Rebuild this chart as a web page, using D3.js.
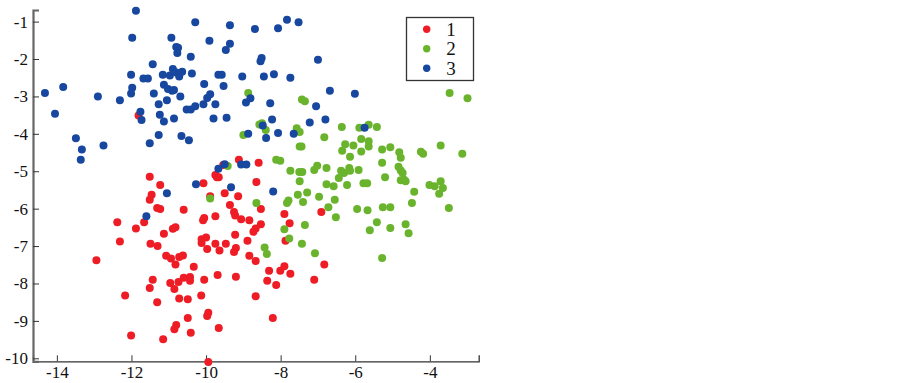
<!DOCTYPE html>
<html>
<head>
<meta charset="utf-8">
<script src="https://cdn.jsdelivr.net/npm/d3@7"></script>
<style>
html, body { margin: 0; padding: 0; background: #fff; }
</style>
</head>
<body>
<div id="chart"></div>
<script>
var groupNames = ["1", "2", "3"];
var groupColors = ["#ee1c25", "#6ab42d", "#17479e"];
var xTicks = [-14, -12, -10, -8, -6, -4];
var yTicks = [-1, -2, -3, -4, -5, -6, -7, -8, -9, -10];

var group1 = [[-11.81,-3.51],[-11.51,-5.15],[-11.23,-5.37],[-10.07,-5.32],[-9.75,-5.10],[-9.71,-5.16],[-9.66,-5.16],[-9.54,-4.83],[-9.12,-4.69],[-8.59,-4.77],
[-8.65,-5.29],[-11.46,-5.63],[-11.51,-5.76],[-11.31,-5.98],[-11.23,-6.01],[-10.60,-6.03],[-9.89,-5.67],[-9.50,-5.59],[-9.14,-5.67],[-9.75,-6.20],
[-10.05,-6.25],[-10.08,-6.31],[-9.36,-5.90],[-9.25,-6.09],[-9.22,-6.18],[-9.06,-6.28],[-8.84,-6.31],[-8.53,-6.01],[-8.53,-6.42],[-8.67,-6.53],
[-8.73,-6.62],[-7.90,-6.14],[-7.76,-6.39],[-7.87,-6.86],[-9.22,-6.70],[-8.89,-6.86],[-12.38,-6.36],[-11.66,-6.36],[-11.88,-6.53],[-11.13,-6.67],
[-10.89,-6.54],[-10.82,-6.50],[-12.31,-6.88],[-11.49,-6.94],[-11.30,-7.00],[-10.12,-6.82],[-10.00,-6.77],[-10.12,-6.92],[-9.97,-7.08],[-9.75,-6.94],
[-9.47,-6.94],[-9.64,-7.12],[-9.20,-7.05],[-9.25,-7.16],[-12.94,-7.38],[-11.07,-7.26],[-10.94,-7.33],[-10.72,-7.29],[-10.62,-7.25],[-10.82,-7.49],
[-10.33,-7.55],[-8.84,-7.26],[-8.67,-7.40],[-11.43,-7.90],[-10.96,-7.99],[-10.74,-7.96],[-10.60,-7.85],[-10.43,-7.83],[-10.43,-7.93],[-10.05,-7.90],
[-9.69,-7.77],[-9.20,-7.82],[-11.51,-8.12],[-10.85,-8.15],[-12.17,-8.32],[-11.31,-8.50],[-10.72,-8.40],[-10.49,-8.42],[-10.13,-8.32],[-8.67,-8.34],
[-10.49,-8.92],[-9.97,-8.87],[-9.94,-8.78],[-10.80,-9.11],[-10.85,-9.22],[-10.41,-9.32],[-9.66,-9.19],[-12.01,-9.39],[-11.15,-9.49],[-9.94,-10.10],
[-6.91,-6.09],[-8.31,-7.66],[-8.01,-7.66],[-7.90,-7.54],[-7.74,-7.74],[-8.36,-7.93],[-8.12,-8.04],[-7.10,-7.90],[-6.83,-7.49],[-8.21,-8.92]];

var group2 = [[-8.87,-2.91],[-8.57,-3.75],[-8.50,-3.72],[-8.40,-3.90],[-9.00,-4.03],[-7.57,-3.85],[-7.49,-3.95],[-7.43,-3.08],[-7.35,-3.13],[-6.83,-4.09],
[-6.36,-3.82],[-5.89,-3.84],[-5.64,-3.76],[-5.42,-3.82],[-6.27,-4.28],[-6.05,-4.31],[-6.35,-4.45],[-5.84,-4.14],[-5.64,-4.20],[-5.64,-4.34],
[-5.84,-4.47],[-6.14,-4.61],[-5.28,-4.42],[-5.06,-4.36],[-4.82,-4.49],[-4.78,-4.64],[-5.28,-4.77],[-4.84,-4.88],[-4.78,-4.98],[-4.73,-5.05],
[-4.24,-4.48],[-4.18,-4.53],[-3.71,-4.31],[-3.13,-4.53],[-3.47,-2.91],[-2.99,-3.05],[-7.49,-4.34],[-7.44,-4.34],[-8.12,-4.69],[-8.01,-4.72],
[-7.74,-4.99],[-7.50,-5.02],[-7.42,-5.02],[-7.10,-4.97],[-7.02,-4.85],[-6.77,-4.91],[-6.38,-4.99],[-6.30,-5.05],[-6.16,-4.91],[-6.14,-4.99],
[-5.91,-4.97],[-6.44,-5.18],[-5.20,-5.16],[-4.78,-5.24],[-4.69,-5.23],[-4.65,-5.27],[-7.49,-5.27],[-6.77,-5.35],[-6.58,-5.40],[-6.22,-5.37],
[-5.78,-5.32],[-5.68,-5.32],[-4.42,-5.55],[-4.48,-5.85],[-4.01,-5.37],[-3.87,-5.40],[-3.71,-5.27],[-3.65,-5.45],[-3.75,-5.60],[-3.49,-5.98],
[-7.54,-5.63],[-7.29,-5.57],[-7.40,-5.82],[-7.79,-5.78],[-7.83,-5.85],[-6.97,-5.68],[-6.55,-5.76],[-6.72,-5.96],[-6.52,-6.23],[-5.95,-6.01],
[-5.67,-6.04],[-5.26,-5.96],[-5.06,-5.96],[-5.42,-6.36],[-5.61,-6.58],[-5.06,-6.52],[-4.65,-6.42],[-4.57,-6.66],[-5.28,-7.32],[-7.35,-6.44],
[-7.90,-6.55],[-7.77,-6.80],[-7.43,-6.94],[-7.08,-7.19],[-8.65,-5.85],[-8.43,-7.04],[-8.37,-7.21],[-9.89,-5.73],[-9.42,-4.86]];

var group3 = [[-11.88,-0.71],[-11.98,-1.43],[-14.32,-2.91],[-14.05,-3.46],[-13.83,-2.75],[-13.49,-4.12],[-13.33,-4.42],[-13.36,-4.69],[-12.90,-3.00],[-12.75,-4.31],
[-12.31,-3.10],[-12.01,-2.42],[-11.98,-2.77],[-12.01,-2.92],[-11.76,-3.41],[-11.73,-3.63],[-11.68,-2.52],[-11.56,-2.52],[-11.43,-2.14],[-11.40,-2.92],
[-11.27,-3.21],[-11.24,-3.49],[-11.13,-3.67],[-11.27,-4.03],[-11.51,-4.25],[-11.16,-2.42],[-11.13,-2.69],[-11.02,-2.80],[-10.91,-2.85],[-10.86,-2.83],
[-11.05,-3.10],[-10.97,-2.44],[-10.89,-2.27],[-10.80,-2.36],[-10.72,-2.47],[-10.72,-2.40],[-10.64,-2.34],[-10.93,-1.43],[-10.80,-1.68],[-10.75,-1.70],
[-10.77,-1.84],[-10.41,-1.94],[-10.38,-2.39],[-10.69,-3.00],[-10.86,-3.59],[-10.66,-4.06],[-10.46,-4.17],[-10.52,-3.35],[-10.41,-3.35],[-10.29,-3.26],
[-10.29,-1.02],[-9.91,-1.51],[-10.05,-2.67],[-9.97,-3.04],[-9.89,-2.94],[-10.07,-3.21],[-9.75,-3.21],[-9.80,-3.59],[-9.45,-3.57],[-9.67,-2.42],
[-9.58,-2.42],[-9.53,-2.72],[-9.36,-1.10],[-9.36,-1.59],[-9.47,-1.76],[-9.03,-2.47],[-8.69,-1.20],[-8.93,-3.16],[-8.81,-3.05],[-8.87,-4.00],
[-9.67,-4.93],[-9.50,-4.81],[-9.06,-4.82],[-8.92,-4.82],[-10.27,-5.35],[-9.33,-5.43],[-11.05,-5.59],[-11.60,-6.20],[-8.07,-1.18],[-7.83,-0.95],
[-7.52,-1.02],[-8.51,-1.97],[-8.54,-2.06],[-7.00,-2.02],[-8.45,-2.47],[-8.18,-2.41],[-7.74,-2.50],[-6.68,-2.85],[-6.01,-2.93],[-8.28,-3.18],
[-7.05,-3.26],[-8.23,-3.62],[-7.22,-3.70],[-6.80,-3.62],[-8.48,-3.78],[-8.07,-3.98],[-8.39,-4.11],[-7.65,-4.00],[-5.75,-3.84],[-8.20,-5.54]];

var groups = [group1, group2, group3];
var serif = "'Liberation Serif', 'Times New Roman', serif";

var width = 902, height = 383;
var svg = d3.select("#chart").append("svg")
    .attr("width", width)
    .attr("height", height)
    .style("display", "block");

var x = d3.scaleLinear().domain([-14.64, -2.69]).range([33, 478.7]);
var y = d3.scaleLinear().domain([-10.08, -0.69]).range([361.3, 10]);

var xAxis = d3.axisBottom(x).tickValues(xTicks).tickSize(-6).tickPadding(5)
    .tickFormat(function(d) { return "" + d; });
var yAxis = d3.axisLeft(y).tickValues(yTicks).tickSize(-6).tickPadding(5)
    .tickFormat(function(d) { return "" + d; });

var gx = svg.append("g").attr("transform", "translate(0,361.3)").call(xAxis);
var gy = svg.append("g").attr("transform", "translate(33,0)").call(yAxis);

gx.selectAll("text").style("font-family", serif).style("font-size", "17px").attr("fill", "#111");
gy.selectAll("text").style("font-family", serif).style("font-size", "17px").attr("fill", "#111");
gx.selectAll("line").attr("stroke", "#333").attr("stroke-width", 1);
gy.selectAll("line").attr("stroke", "#333").attr("stroke-width", 1);
gx.select(".domain").attr("stroke", "#333").attr("stroke-width", 1.3);
gy.select(".domain").attr("stroke", "#666").attr("stroke-width", 2.2);

// red first, blue ends up on top
groups.forEach(function(points, i) {
    svg.append("g").selectAll("circle").data(points).enter().append("circle")
        .attr("cx", function(d) { return x(d[0]); })
        .attr("cy", function(d) { return y(d[1]); })
        .attr("r", 4)
        .attr("fill", groupColors[i]);
});

var legend = svg.append("g").attr("transform", "translate(406.5,17.5)");
legend.append("rect")
    .attr("width", 67)
    .attr("height", 63)
    .attr("fill", "#fff")
    .attr("stroke", "#333")
    .attr("stroke-width", 1.3);

var rows = legend.selectAll(".row").data(groupNames).enter().append("g")
    .attr("class", "row")
    .attr("transform", function(d, i) { return "translate(0," + (11.8 + i * 19.5) + ")"; });
rows.append("circle")
    .attr("cx", 20.2)
    .attr("r", 3.7)
    .attr("fill", function(d, i) { return groupColors[i]; });
rows.append("text")
    .attr("x", 44.5)
    .attr("dy", "0.34em")
    .attr("text-anchor", "middle")
    .style("font-family", serif)
    .style("font-size", "19px")
    .attr("fill", "#111")
    .text(function(d) { return d; });
</script>
</body>
</html>
